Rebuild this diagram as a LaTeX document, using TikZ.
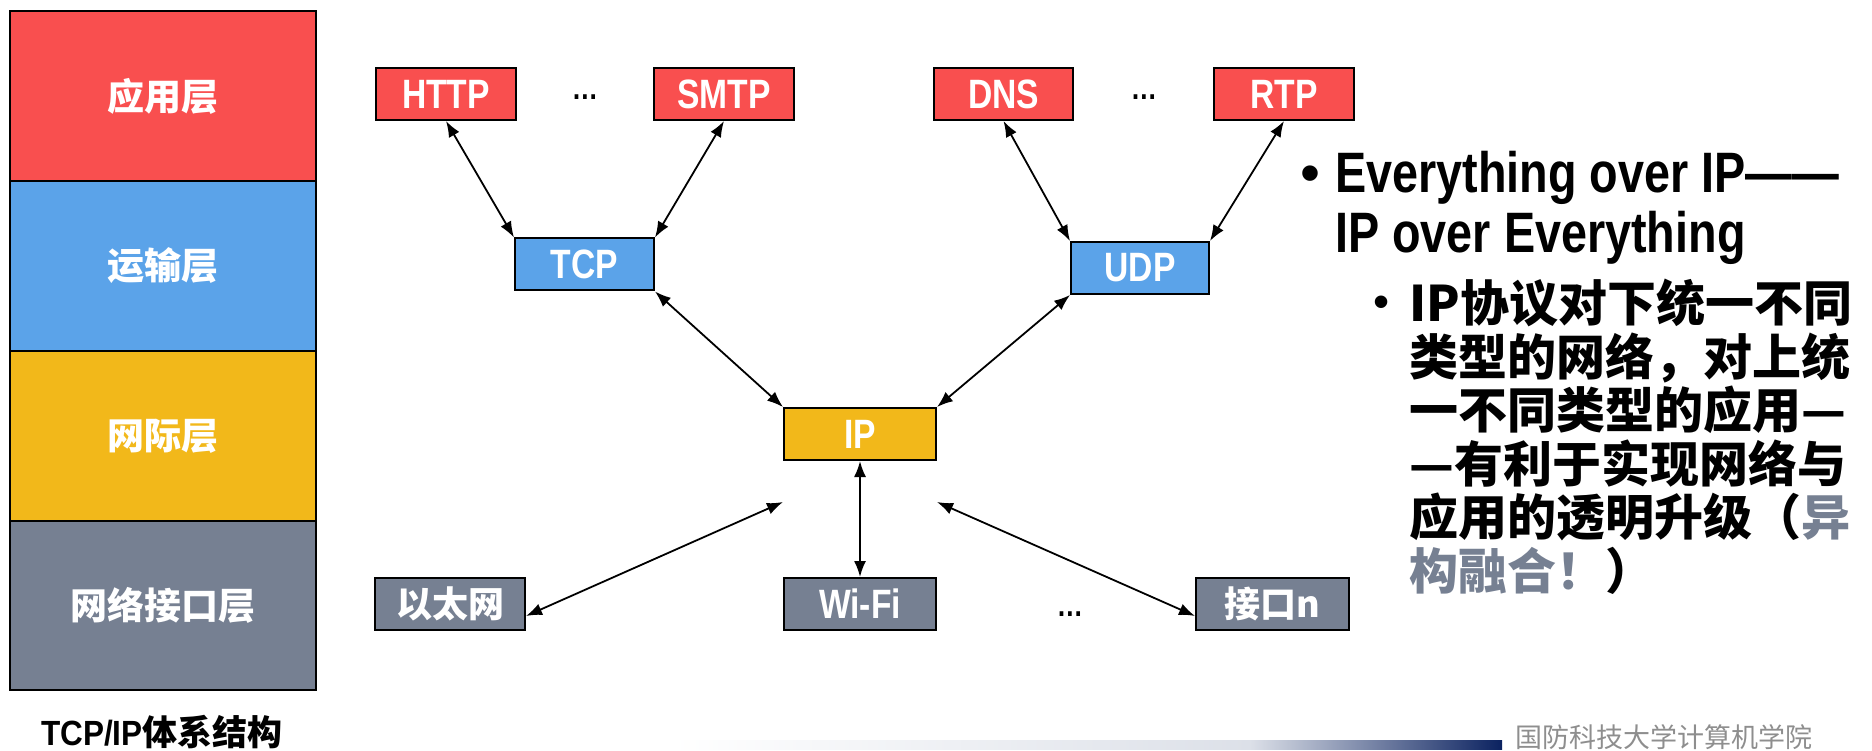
\documentclass[tikz,border=0pt]{standalone}
\usepackage{fontspec}
\usetikzlibrary{arrows.meta,calc}
\setmainfont{Liberation Sans}
\newfontfamily\narrowf{Liberation Sans}[FakeStretch=0.82]
\newfontfamily\capf{Liberation Sans}[FakeStretch=0.9]
\newfontfamily\cjkf{Noto Sans CJK SC}
\definecolor{lred}{HTML}{F94F4F}
\definecolor{lblue}{HTML}{5BA3E9}
\definecolor{lyellow}{HTML}{F2B81A}
\definecolor{lgray}{HTML}{768092}
\definecolor{navy}{HTML}{0B2260}
\definecolor{midbar}{HTML}{DCE0E8}
\definecolor{foot}{HTML}{8E8E8E}
\begin{document}
\begin{tikzpicture}[x=1pt,y=-1pt,
  layer/.style={draw=black, line width=2pt, minimum width=306pt, minimum height=170pt, inner sep=0pt, text=white, font=\cjkf\bfseries\fontsize{37}{40}\selectfont},
  proto/.style={draw=black, line width=2pt, minimum height=52pt, inner sep=0pt, text=white},
  lat/.style={font=\narrowf\bfseries\fontsize{41}{44}\selectfont},
  cjkl/.style={font=\cjkf\bfseries\fontsize{36}{40}\selectfont},
  link/.style={{Latex[length=16pt,width=12pt]}-{Latex[length=16pt,width=12pt]}, line width=1.8pt},
  dots/.style={font=\narrowf\bfseries\fontsize{32}{34}\selectfont, anchor=base, inner sep=0pt},
  bigline/.style={anchor=base west, inner sep=0pt, font=\narrowf\bfseries\fontsize{57}{60}\selectfont},
  subline/.style={anchor=base west, inner sep=0pt, font=\cjkf\bfseries\fontsize{49}{53}\selectfont},
]
\useasboundingbox (0,0) rectangle (1872,751);

% layer stack
\node[layer, fill=lred] (app) at (163,96) {应用层};
\node[layer, fill=lblue] (tra) at (163,266) {运输层};
\node[layer, fill=lyellow] (net) at (163,436) {网际层};
\node[layer, fill=lgray, minimum height=169pt] (lnk) at (163,605.5) {网络接口层};
\node[inner sep=0pt, font=\fontsize{35}{40}\selectfont] (cap) at (162,732) {{\capf\bfseries TCP/IP}{\cjkf\bfseries 体系结构}};

% protocol boxes
\node[proto, lat, fill=lred, minimum width=140pt] (http) at (446,94) {HTTP};
\node[proto, lat, fill=lred, minimum width=140pt] (smtp) at (724,94) {SMTP};
\node[proto, lat, fill=lred, minimum width=139pt] (dns) at (1003.5,94) {DNS};
\node[proto, lat, fill=lred, minimum width=140pt] (rtp) at (1284,94) {RTP};
\node[dots] (d1) at (585,100) {…};
\node[dots] (d2) at (1144,100) {…};

\node[proto, lat, fill=lblue, minimum width=139pt] (tcp) at (584.5,264.5) {TCP};
\node[proto, lat, fill=lblue, minimum width=138pt] (udp) at (1140,268) {UDP};

\node[proto, lat, fill=lyellow, minimum width=152pt] (ip) at (860,434) {IP};

\node[proto, cjkl, fill=lgray, minimum width=150pt] (eth) at (450,604) {以太网};
\node[proto, lat, fill=lgray, minimum width=152pt] (wifi) at (860,604) {Wi-Fi};
\node[proto, cjkl, fill=lgray, minimum width=153pt] (ifn) at (1272.5,604) {接口n};
\node[dots] (d3) at (1070,616) {…};

% connectors
\draw[link] (http.south) -- (tcp.north west);
\draw[link] (smtp.south) -- (tcp.north east);
\draw[link] (dns.south) -- (udp.north west);
\draw[link] (rtp.south) -- (udp.north east);
\draw[link] (tcp.south east) -- (ip.north west);
\draw[link] (udp.south west) -- (ip.north east);
\draw[link] (ip.south) -- (wifi.north);
\coordinate (fl) at ($(ip.south west)+(0,41)$);
\coordinate (fr) at ($(ip.south east)+(0,41)$);
\draw[link] ($(eth.east)+(0,12)$) -- (fl);
\draw[link] ($(ifn.west)+(0,12)$) -- (fr);

% right text
\node[anchor=base, inner sep=0pt, font=\fontsize{57}{60}\selectfont] (b1) at (1310,193) {•};
\node[bigline] (t1) at (1335,193) {Everything over IP——};
\node[bigline] (t2) at (1335,253) {IP over Everything};
\node[anchor=base, inner sep=0pt, font=\fontsize{46}{48}\selectfont] (b2) at (1382,318) {•};
\node[subline] (s1) at (1409,321.6) {IP协议对下统一不同};
\node[subline] (s2) at (1409,375.1) {类型的网络，对上统};
\node[subline] (s3) at (1409,428.6) {一不同类型的应用—};
\node[subline] (s4) at (1409,482.1) {—有利于实现网络与};
\node[subline] (s5) at (1409,535.6) {应用的透明升级（{\color{lgray}异}};
\node[subline] (s6) at (1409,589.1) {{\color{lgray}构融合！}）};

% footer
\fill[left color=white, right color=midbar] (671,740) rectangle (1250,749);
\fill[left color=midbar, right color=navy] (1250,740) rectangle (1502,749);
\node[anchor=base west, inner sep=0pt, text=foot, font=\cjkf\fontsize{27}{30}\selectfont] (org) at (1515,747) {国防科技大学计算机学院};
\end{tikzpicture}
\end{document}
